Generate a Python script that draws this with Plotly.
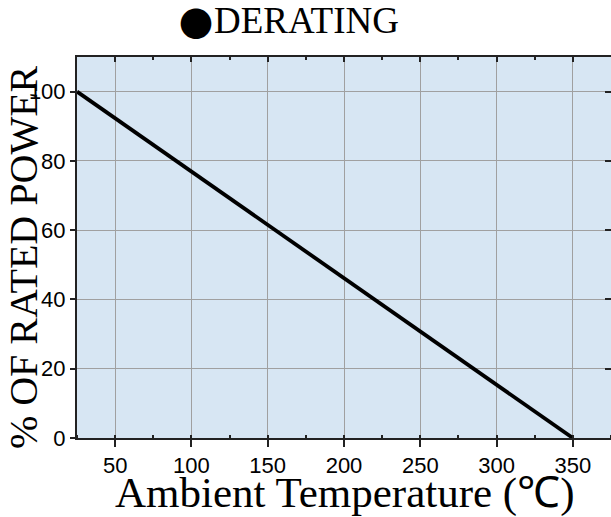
import plotly.graph_objects as go

# Data
temperature = [25, 350]
rated_power = [100, 0]
x_ticks = [50, 100, 150, 200, 250, 300, 350]
y_ticks = [0, 20, 40, 60, 80, 100]
x_range = [25, 375]
y_range = [0, 110]

bullet_text = "●"
title_text = "DERATING"
x_title = "Ambient Temperature (℃)"
y_title = "% OF RATED POWER"

fig = go.Figure()
fig.add_trace(go.Scatter(x=temperature, y=rated_power, mode="lines",
                         line=dict(color="black", width=3.8), hoverinfo="skip",
                         showlegend=False))
fig.add_trace(go.Scatter(x=[], y=[], xaxis="x2", yaxis="y2", showlegend=False))

grid = "#a0a0a0"
fig.update_layout(
    width=611, height=517,
    margin=dict(l=77, r=0, t=57, b=79),
    paper_bgcolor="white",
    plot_bgcolor="#d7e6f3",
    showlegend=False,
    xaxis=dict(range=x_range, tickvals=x_ticks, ticks="outside", ticklen=7,
               tickwidth=1.5, tickcolor="#222", showline=True, linecolor="#222",
               linewidth=2, showgrid=True, gridcolor=grid, gridwidth=1,
               zeroline=False, tickfont=dict(family="Liberation Sans", size=22, color="black"),
               minor=dict(ticks="inside", ticklen=3, tickcolor="#222", dtick=25, tick0=0, showgrid=False)),
    yaxis=dict(range=y_range, tickvals=y_ticks, ticks="outside", ticklen=5,
               tickwidth=1.5, tickcolor="#222", showline=True, linecolor="#222",
               linewidth=2, showgrid=True, gridcolor=grid, gridwidth=1,
               zeroline=False, tickfont=dict(family="Liberation Sans", size=22, color="black")),
    xaxis2=dict(range=x_range, overlaying="x", side="top", tickvals=x_ticks,
                ticks="inside", ticklen=5, tickwidth=1.5, tickcolor="#222",
                showticklabels=False, showline=True, linecolor="#222", linewidth=2,
                showgrid=False, zeroline=False,
                minor=dict(ticks="inside", ticklen=3, tickcolor="#222", dtick=25, tick0=0, showgrid=False)),
    yaxis2=dict(range=y_range, overlaying="y", side="right", tickvals=y_ticks,
                ticks="inside", ticklen=6, tickwidth=1.5, tickcolor="#222",
                showticklabels=False, showline=False, showgrid=False, zeroline=False),
    annotations=[
        dict(text=bullet_text, xref="paper", yref="paper", x=0.2235, y=1.09,
             xanchor="center", yanchor="middle", showarrow=False,
             font=dict(family="Noto Sans CJK JP", size=34, color="black")),
        dict(text=title_text, xref="paper", yref="paper", x=0.429, y=1.0945,
             xanchor="center", yanchor="middle", showarrow=False,
             font=dict(family="Liberation Serif", size=37, color="black")),
        dict(text=x_title, xref="paper", yref="paper", x=0.5, y=-0.145,
             xanchor="center", yanchor="middle", showarrow=False,
             font=dict(family="Liberation Serif", size=43, color="black")),
        dict(text=y_title, xref="paper", yref="paper", x=-0.101, y=0.475,
             xanchor="center", yanchor="middle", showarrow=False, textangle=-90,
             font=dict(family="Liberation Serif", size=40, color="black")),
    ],
)

fig.write_html("out.html", config={"displayModeBar": False},
               post_script="document.body.style.margin='0px';")
